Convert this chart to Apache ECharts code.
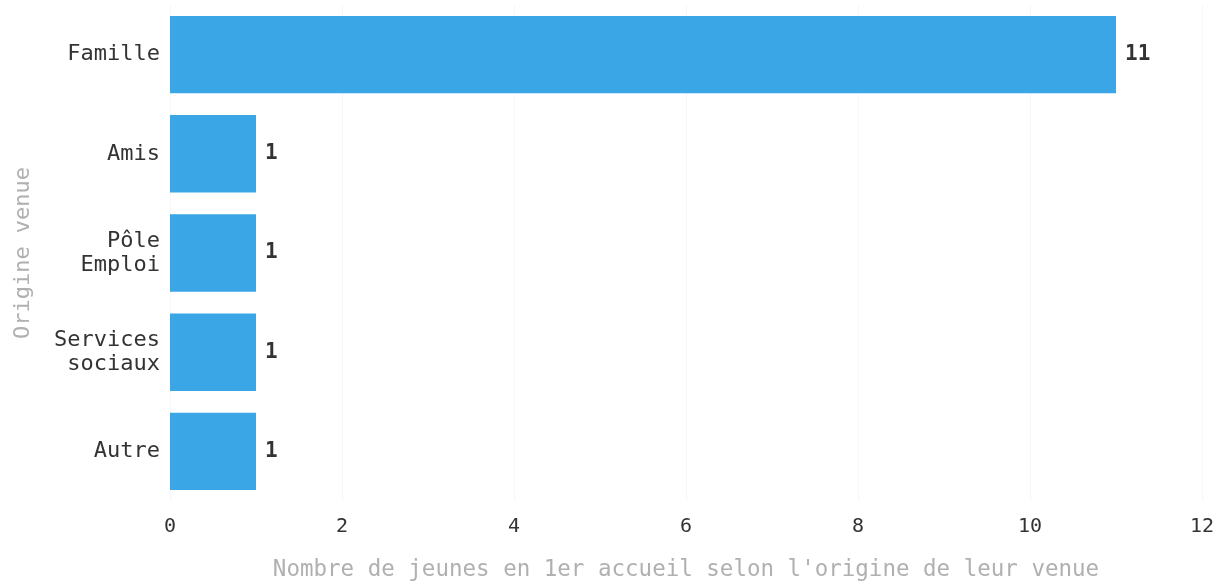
<!DOCTYPE html>
<html><head><meta charset="utf-8">
<script src="https://cdn.jsdelivr.net/npm/echarts@6/dist/echarts.min.js"></script>
<style>html,body{margin:0;padding:0;background:#fff}#c{width:1228px;height:587px}</style>
</head><body><div id="c"></div>
<script>
const categories = ["Famille", "Amis", "Pôle\nEmploi", "Services\nsociaux", "Autre"];
const values = [11, 1, 1, 1, 1];
const xTicks = {min: 0, max: 12, interval: 2};
const xName = "Nombre de jeunes en 1er accueil selon l'origine de leur venue";
const yName = "Origine venue";

const mono = "'DejaVu Sans Mono', monospace";
const chart = echarts.init(document.getElementById('c'), null, {renderer: 'canvas'});
chart.setOption({
  animation: false,
  grid: {left: 170, right: 26, top: 5, bottom: 82, containLabel: false},
  xAxis: {
    type: 'value', min: xTicks.min, max: xTicks.max, interval: xTicks.interval,
    name: xName, nameLocation: 'middle', nameGap: 58,
    nameTextStyle: {fontFamily: mono, fontSize: 22.5, color: '#b0b0b0'},
    axisLine: {show: false}, axisTick: {show: false},
    axisLabel: {fontFamily: mono, fontSize: 20, color: '#333', margin: 16},
    splitLine: {show: true, lineStyle: {color: '#f7f7f7', width: 1}}
  },
  yAxis: {
    type: 'category', data: categories, inverse: true,
    name: yName, nameLocation: 'middle', nameGap: 136, nameRotate: 90,
    nameTextStyle: {fontFamily: mono, fontSize: 22, color: '#b0b0b0'},
    axisLine: {show: false}, axisTick: {show: false},
    axisLabel: {fontFamily: mono, fontSize: 22, color: '#333', margin: 10, lineHeight: 24}
  },
  series: [{
    type: 'bar', data: values, barCategoryGap: '22%',
    itemStyle: {color: '#3aa6e6'},
    label: {show: true, position: 'right', distance: 9, fontFamily: mono, fontSize: 21, fontWeight: 'bold', color: '#333'}
  }]
});
</script></body></html>
